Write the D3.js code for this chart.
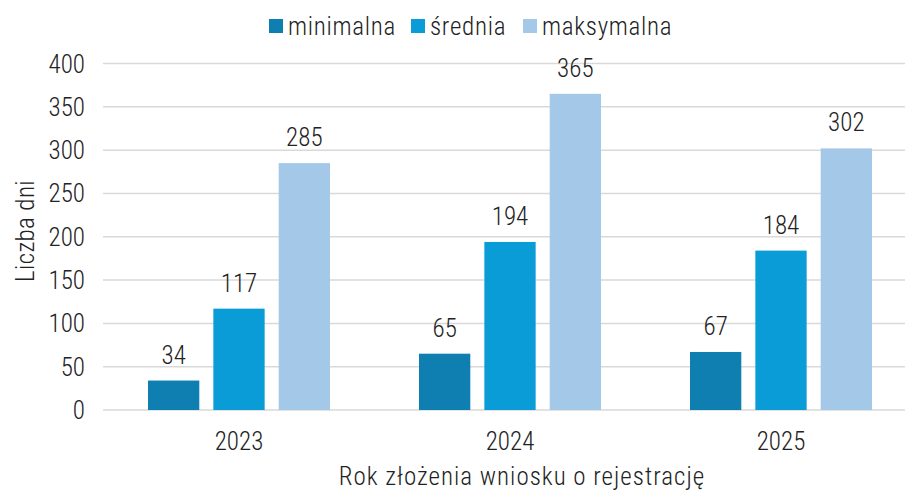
<!DOCTYPE html>
<html>
<head>
  <meta charset="utf-8">
  <title>Liczba dni</title>
  <script src="https://cdn.jsdelivr.net/npm/d3@7"></script>
  <style>
    body { margin: 0; background: #fff; }
    text { font-family: "Roboto Condensed", "Liberation Sans Narrow", Roboto, sans-serif; fill: #222; font-weight: 300; }
  </style>
</head>
<body>
<script>

// data
var years = ["2023", "2024", "2025"];
var seriesNames = ["minimalna", "średnia", "maksymalna"];
var minimalna = [34, 65, 67];
var srednia = [117, 194, 184];
var maksymalna = [285, 365, 302];
var yTicks = [0, 50, 100, 150, 200, 250, 300, 350, 400];

var colors = ["#0e7fb0", "#0a9cd6", "#a3c8e8"];
var series = [minimalna, srednia, maksymalna];

var width = 905,
    height = 490;

var fs = "25px";

var svg = d3.select("body").append("svg")
    .attr("width", width)
    .attr("height", height);

var x0 = d3.scaleBand()
    .domain(years)
    .range([103, 916]);

var x1 = d3.scaleBand()
    .domain(seriesNames)
    .range([45, 227])
    .paddingInner(0.215);

var y = d3.scaleLinear()
    .domain([0, 400])
    .range([410, 63.5]);

// gridlines
svg.append("g")
  .selectAll("line")
  .data(yTicks)
  .enter().append("line")
    .attr("x1", 103)
    .attr("x2", width)
    .attr("y1", function(d) { return y(d); })
    .attr("y2", function(d) { return y(d); })
    .attr("stroke", "#d9d9d9")
    .attr("stroke-width", 1.5);

// y tick labels
svg.append("g")
  .selectAll("text")
  .data(yTicks)
  .enter().append("text")
    .attr("x", 85)
    .attr("y", function(d) { return y(d); })
    .attr("dy", "0.36em")
    .attr("text-anchor", "end")
    .style("font-size", fs)
    .text(function(d) { return d; });

// bars
var groups = svg.append("g")
  .selectAll("g")
  .data(years)
  .enter().append("g")
    .attr("transform", function(d) { return "translate(" + x0(d) + ",0)"; });

groups.each(function(yr, yi) {
  var g = d3.select(this);
  seriesNames.forEach(function(s, si) {
    var v = series[si][yi];
    g.append("rect")
      .attr("x", x1(s))
      .attr("y", y(v))
      .attr("width", x1.bandwidth())
      .attr("height", y(0) - y(v))
      .attr("fill", colors[si]);
    g.append("text")
      .attr("x", x1(s) + x1.bandwidth() / 2)
      .attr("y", y(v) - 17)
      .attr("text-anchor", "middle")
      .style("font-size", fs)
      .text(v);
  });
});

// x tick labels
svg.append("g")
  .selectAll("text")
  .data(years)
  .enter().append("text")
    .attr("x", function(d) { return x0(d) + 136; })
    .attr("y", 450)
    .attr("text-anchor", "middle")
    .style("font-size", fs)
    .text(function(d) { return d; });

// axis titles
svg.append("text")
    .attr("transform", "translate(34,231) rotate(-90)")
    .attr("text-anchor", "middle")
    .style("font-size", fs)
    .style("letter-spacing", "0.4px")
    .text("Liczba dni");

svg.append("text")
    .attr("x", 522)
    .attr("y", 485)
    .attr("text-anchor", "middle")
    .style("font-size", fs)
    .style("letter-spacing", "1px")
    .text("Rok złożenia wniosku o rejestrację");

// legend
var legendX = [269, 411, 523];
var legend = svg.append("g")
  .selectAll("g")
  .data(seriesNames)
  .enter().append("g")
    .attr("transform", function(d, i) { return "translate(" + legendX[i] + ",0)"; });

legend.append("rect")
    .attr("x", 0)
    .attr("y", 19)
    .attr("width", 14)
    .attr("height", 14)
    .attr("fill", function(d, i) { return colors[i]; });

legend.append("text")
    .attr("x", 19)
    .attr("y", 35)
    .style("font-size", fs)
    .style("letter-spacing", "0.7px")
    .text(function(d) { return d; });

</script>
</body>
</html>
